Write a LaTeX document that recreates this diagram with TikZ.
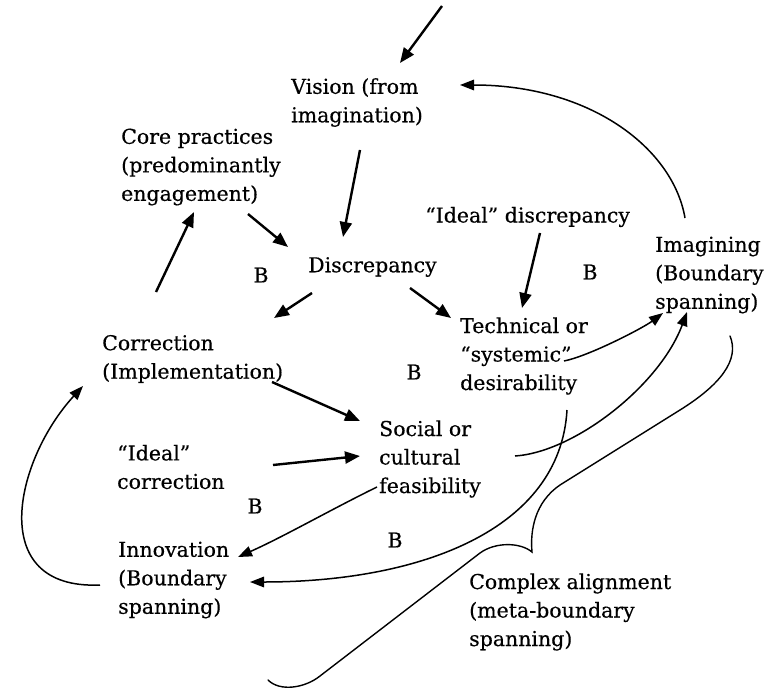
\documentclass[tikz,border=0pt]{standalone}
\usepackage{fontspec}
\setmainfont{DejaVu Serif}[FakeBold=0.4]
\usetikzlibrary{arrows.meta}
\begin{document}
\begin{tikzpicture}[x=1pt,y=-1pt,
  lbl/.style={anchor=west, align=left, inner sep=0pt, font=\fontsize{20.5}{28.5}\selectfont},
  loopmark/.style={inner sep=0pt, font=\fontsize{20.5}{24}\selectfont},
  arr/.style={line width=2.4pt, -{Triangle[length=15pt,width=12pt]}},
  carr/.style={line width=1.5pt, -{Triangle[length=14pt,width=10.5pt]}},
  bracket/.style={line width=1.4pt, line cap=round}
]
\useasboundingbox (0,0) rectangle (773,690);

% concepts
\node[lbl] (vision)  at (291,102.5) {Vision (from\\imagination)};
\node[lbl] (core)    at (121,167) {Core practices\\(predominantly\\engagement)};
\node[lbl] (disc)    at (308,267) {Discrepancy};
\node[lbl] (idisc)   at (425,217) {“Ideal” discrepancy};
\node[lbl] (imag)    at (655,275) {Imagining\\(Boundary\\spanning)};
\node[lbl] (tech)    at (460,356) {Technical or\\“systemic”\\desirability};
\node[lbl] (corr)    at (102,359) {Correction\\(Implementation)};
\node[lbl] (social)  at (379,459) {Social or\\cultural\\feasibility};
\node[lbl] (icorr)   at (117,467) {“Ideal”\\correction};
\node[lbl] (innov)   at (118,580) {Innovation\\(Boundary\\spanning)};
\node[lbl] (complex) at (469,612) {Complex alignment\\(meta-boundary\\spanning)};

% balancing-loop marks
\node[loopmark] (b1) at (261,275) {B};
\node[loopmark] (b2) at (590,272) {B};
\node[loopmark] (b3) at (414,372) {B};
\node[loopmark] (b4) at (255,506) {B};
\node[loopmark] (b5) at (395,540) {B};

\coordinate (src) at (442,6);

% straight links
\draw[arr] (src) -- ([shift={(109,-39.5)}]vision.west);
\draw[arr] ([shift={(69,47.5)}]vision.west) -- ([shift={(35,-30)}]disc.west);
\draw[arr] ([shift={(127,47)}]core.west) -- ([shift={(-20,-20)}]disc.west);
\draw[arr] ([shift={(54,-67)}]corr.west) -- ([shift={(73,45)}]core.west);
\draw[arr] ([shift={(4,26)}]disc.west) -- ([shift={(172,-41)}]corr.west);
\draw[arr] ([shift={(102,21)}]disc.west) -- ([shift={(-9,-38)}]tech.west);
\draw[arr] ([shift={(115,16)}]idisc.west) -- ([shift={(62,-48)}]tech.west);
\draw[arr] ([shift={(170,23)}]corr.west) -- ([shift={(-19,-38)}]social.west);
\draw[arr] ([shift={(156,-2)}]icorr.west) -- ([shift={(-19,-3)}]social.west);

% curved links
\draw[carr] ([shift={(30,-57)}]imag.west)
  .. controls +(-12,-70) and +(130,0) .. ([shift={(169,-17.5)}]vision.west);
\draw[carr] ([shift={(104,5)}]tech.west)
  .. controls +(25,-5) and +(-20,15) .. ([shift={(8,38)}]imag.west);
\draw[carr] ([shift={(136,-3)}]social.west)
  .. controls +(60,-4) and +(-27,73) .. ([shift={(32,37)}]imag.west);
\draw[carr] ([shift={(-2,28)}]social.west)
  .. controls +(-45,22) and +(45,-20) .. ([shift={(120,-23)}]innov.west);
\draw[carr] ([shift={(107,54)}]tech.west)
  .. controls +(-7,120) and +(170,0) .. ([shift={(132,2)}]innov.west);
\draw[carr] ([shift={(-18,5)}]innov.west)
  .. controls +(-115,5) and +(-68,74) .. ([shift={(-19,27)}]corr.west);

% brace grouping the alignment
\draw[bracket] (730,336) .. controls (740,360) and (720,385) .. (680,410)
  -- (560,485) .. controls (535,502) and (530,530) .. (532,552)
  .. controls (520,542) and (495,542) .. (480,553)
  -- (320,676) .. controls (305,688) and (280,692) .. (268,680);
\end{tikzpicture}
\end{document}
